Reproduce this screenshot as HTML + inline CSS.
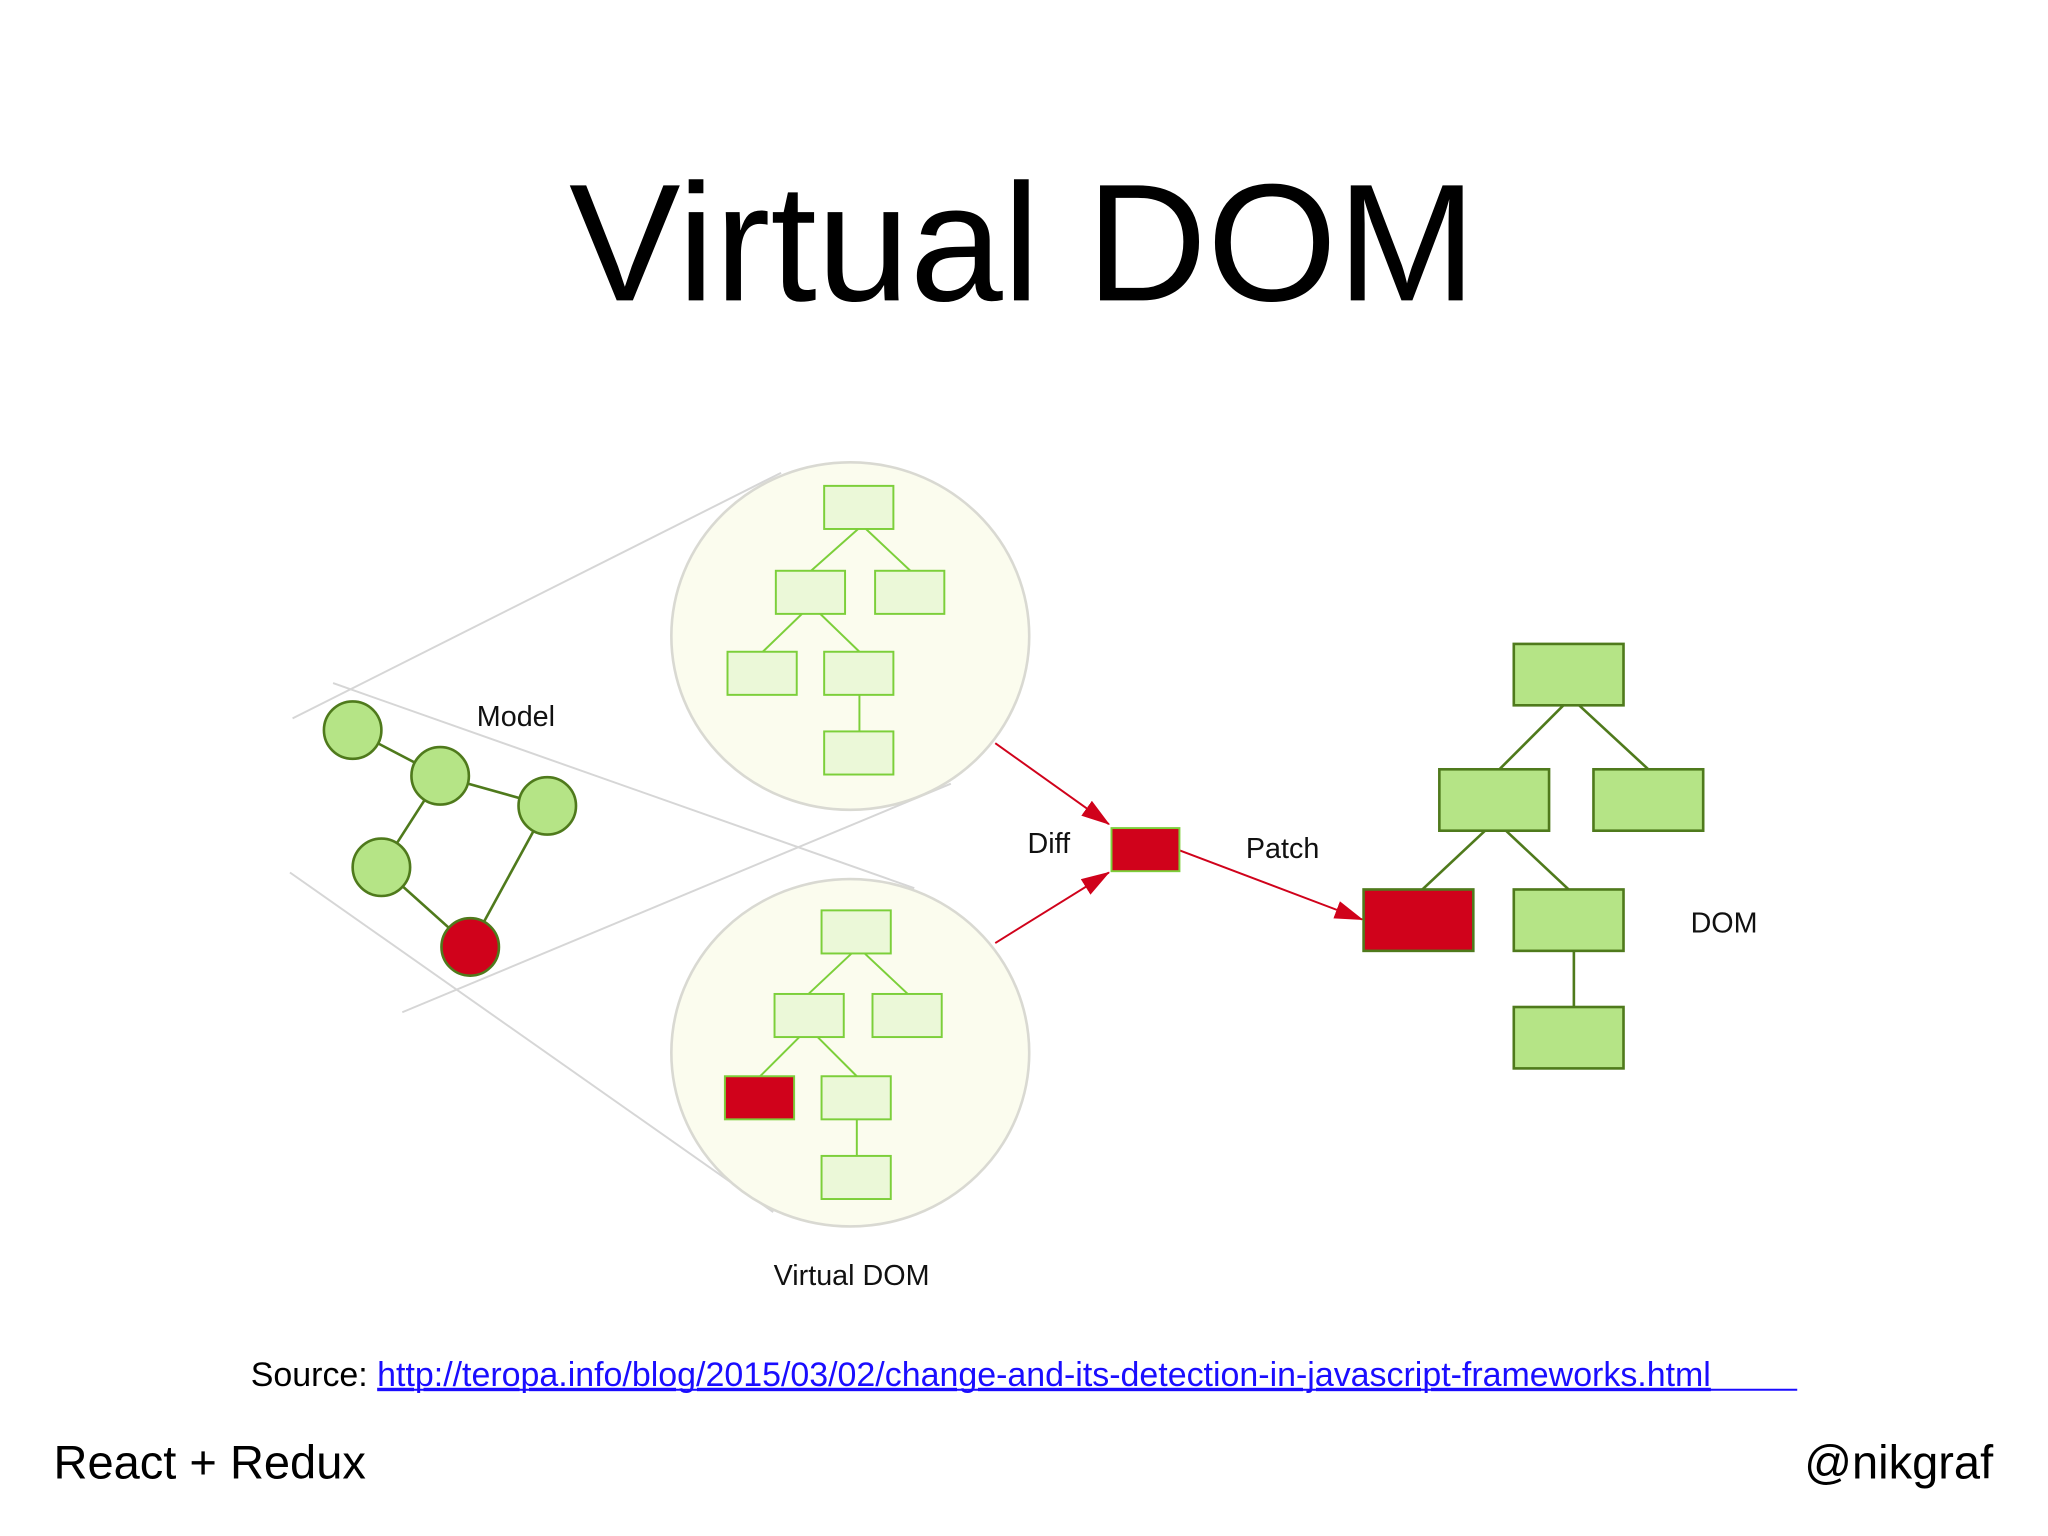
<!DOCTYPE html>
<html><head><meta charset="utf-8"><style>
html,body{margin:0;padding:0;background:#fff;}
svg{display:block;}
text{font-family:"Liberation Sans",Arial,sans-serif;}
</style></head><body>
<svg width="2048" height="1536" viewBox="0 0 1568 1176" xmlns="http://www.w3.org/2000/svg">
<defs>
<marker id="ar" markerWidth="10" markerHeight="8" refX="9" refY="4" orient="auto" markerUnits="userSpaceOnUse" viewBox="0 0 10 8">
<path d="M0,0 L10,4 L0,8 z" fill="#d0021b"/></marker>
<marker id="ar2" markerWidth="22" markerHeight="14" refX="21" refY="7" orient="auto" markerUnits="userSpaceOnUse" viewBox="0 0 22 14">
<path d="M0,0 L22,7 L0,14 z" fill="#d0021b"/></marker>
</defs>
<rect width="1568" height="1176" fill="#fff"/>
<text x="783" y="230" font-size="128" text-anchor="middle" fill="#000">Virtual DOM</text>

<!-- zoom lines -->
<g stroke="#d6d6d6" stroke-width="1.5" fill="none">
<line x1="224" y1="550" x2="598" y2="362"/>
<line x1="255" y1="523" x2="700" y2="680"/>
<line x1="222" y1="668" x2="592" y2="928"/>
<line x1="308" y1="775" x2="728" y2="600"/>
</g>
<ellipse cx="651" cy="487" rx="137" ry="133" fill="#fbfcee" stroke="#d9d9d2" stroke-width="2"/>
<ellipse cx="651" cy="806" rx="137" ry="133" fill="#fbfcee" stroke="#d9d9d2" stroke-width="2"/>

<!-- top VDOM tree -->
<g stroke="#7ccf3a" stroke-width="1.5" fill="#ebf8d8">
<line x1="657" y1="405" x2="621" y2="437"/><line x1="663" y1="405" x2="697" y2="437"/>
<line x1="614" y1="470" x2="584" y2="499"/><line x1="628" y1="470" x2="658" y2="499"/>
<line x1="658" y1="532" x2="658" y2="560"/>
<rect x="631" y="372" width="53" height="33"/>
<rect x="594" y="437" width="53" height="33"/>
<rect x="670" y="437" width="53" height="33"/>
<rect x="557" y="499" width="53" height="33"/>
<rect x="631" y="499" width="53" height="33"/>
<rect x="631" y="560" width="53" height="33"/>
</g>
<!-- bottom VDOM tree -->
<g stroke="#7ccf3a" stroke-width="1.5" fill="#ebf8d8">
<line x1="652" y1="730" x2="619" y2="761"/><line x1="662" y1="730" x2="695" y2="761"/>
<line x1="612" y1="794" x2="582" y2="824"/><line x1="626" y1="794" x2="656" y2="824"/>
<line x1="656" y1="857" x2="656" y2="885"/>
<rect x="629" y="697" width="53" height="33"/>
<rect x="593" y="761" width="53" height="33"/>
<rect x="668" y="761" width="53" height="33"/>
<rect x="555" y="824" width="53" height="33" fill="#d0021b"/>
<rect x="629" y="824" width="53" height="33"/>
<rect x="629" y="885" width="53" height="33"/>
</g>

<!-- Model -->
<g stroke="#4f7a1c" stroke-width="2">
<line x1="270" y1="559" x2="337" y2="594"/>
<line x1="337" y1="594" x2="419" y2="617"/>
<line x1="337" y1="594" x2="292" y2="664"/>
<line x1="292" y1="664" x2="360" y2="725"/>
<line x1="419" y1="617" x2="360" y2="725"/>
</g>
<g stroke="#4f7a1c" stroke-width="2" fill="#b5e486">
<circle cx="270" cy="559" r="22"/>
<circle cx="337" cy="594" r="22"/>
<circle cx="419" cy="617" r="22"/>
<circle cx="292" cy="664" r="22"/>
<circle cx="360" cy="725" r="22" fill="#d0021b"/>
</g>

<!-- Diff arrows -->
<g stroke="#d0021b" stroke-width="1.5">
<line x1="762" y1="569" x2="849" y2="631" marker-end="url(#ar2)"/>
<line x1="762" y1="722" x2="849" y2="668" marker-end="url(#ar2)"/>
<line x1="903" y1="651" x2="1043" y2="704" marker-end="url(#ar2)"/>
</g>
<rect x="851" y="634" width="52" height="33" fill="#d0021b" stroke="#7ccf3a" stroke-width="1.5"/>

<!-- DOM tree -->
<g stroke="#4f7a1c" stroke-width="2">
<line x1="1197" y1="540" x2="1148" y2="589"/><line x1="1209" y1="540" x2="1262" y2="589"/>
<line x1="1137" y1="636" x2="1089" y2="681"/><line x1="1153" y1="636" x2="1201" y2="681"/>
<line x1="1205" y1="728" x2="1205" y2="771"/>
</g>
<g stroke="#4f7a1c" stroke-width="2" fill="#b5e486">
<rect x="1159" y="493" width="84" height="47"/>
<rect x="1102" y="589" width="84" height="47"/>
<rect x="1220" y="589" width="84" height="47"/>
<rect x="1044" y="681" width="84" height="47" fill="#d0021b"/>
<rect x="1159" y="681" width="84" height="47"/>
<rect x="1159" y="771" width="84" height="47"/>
</g>

<g font-size="22" fill="#111">
<text x="395" y="556" text-anchor="middle">Model</text>
<text x="803" y="653" text-anchor="middle">Diff</text>
<text x="982" y="657" text-anchor="middle">Patch</text>
<text x="1320" y="714" text-anchor="middle">DOM</text>
<text x="652" y="984" text-anchor="middle">Virtual DOM</text>
</g>

<text x="192" y="1061" font-size="26" fill="#000">Source: <tspan fill="#1a0dff" text-decoration="underline">http://teropa.info/blog/2015/03/02/change-and-its-detection-in-javascript-frameworks.html</tspan></text>
<line x1="294" y1="1064" x2="1376" y2="1064" stroke="#1a0dff" stroke-width="1.5"/>
<text x="41" y="1132" font-size="36" fill="#000">React + Redux</text>
<text x="1526" y="1132" font-size="36" fill="#000" text-anchor="end">@nikgraf</text>
</svg>
</body></html>
